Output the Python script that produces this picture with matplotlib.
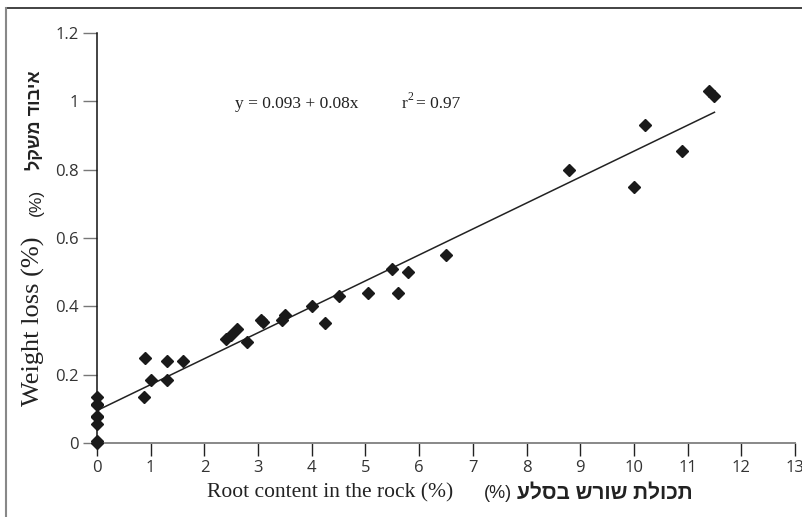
import matplotlib
matplotlib.use("Agg")
import matplotlib.pyplot as plt
from matplotlib.lines import Line2D

# Data
root_content = [0, 0, 0, 0, 0, 0, 0, 0,
                0.87, 0.9, 1.0, 1.3, 1.3, 1.6, 2.4, 2.5, 2.6, 2.8,
                3.05, 3.1, 3.45, 3.5, 4.0, 4.25, 4.5, 5.05, 5.5, 5.6,
                5.8, 6.5, 8.8, 10.0, 10.2, 10.9, 11.4, 11.5]
weight_loss = [0.135, 0.115, 0.11, 0.08, 0.075, 0.055, 0.005, 0.0,
               0.135, 0.25, 0.185, 0.24, 0.185, 0.24, 0.305, 0.315, 0.335, 0.295,
               0.36, 0.355, 0.36, 0.375, 0.40, 0.35, 0.43, 0.44, 0.51, 0.44,
               0.50, 0.55, 0.80, 0.75, 0.93, 0.855, 1.03, 1.015]
fit_x = [0, 11.5]
fit_y = [0.095, 0.968]
x_ticks = list(range(0, 14))
y_ticks = [0, 0.2, 0.4, 0.6, 0.8, 1.0, 1.2]
y_tick_labels = ["0", "0.2", "0.4", "0.6", "0.8", "1", "1.2"]

W, H = 803, 517
fig = plt.figure(figsize=(W / 100, H / 100), dpi=100)
ax = fig.add_axes([97 / W, 1 - 443 / H, (795 - 97) / W, (443 - 33) / H])

ax.plot(fit_x, fit_y, color="#222222", lw=1.1, zorder=2)
ax.plot(root_content, weight_loss, linestyle="none", marker="D", markersize=6.2,
        color="#1a1a1a", zorder=3, clip_on=False)

ax.set_xlim(0, 13)
ax.set_ylim(0, 1.2)
ax.set_xticks(x_ticks)
ax.set_yticks(y_ticks)
ax.set_yticklabels(y_tick_labels)

for s in ["top", "right"]:
    ax.spines[s].set_visible(False)
ax.spines["left"].set_color("#111111")
ax.spines["bottom"].set_color("#888888")
ax.spines["left"].set_linewidth(1.1)
ax.spines["bottom"].set_linewidth(1.4)
ax.tick_params(axis="x", direction="out", length=9, width=1.0, color="#222222",
               labelsize=12, labelcolor="#333333", pad=3)
ax.tick_params(axis="y", direction="out", length=10, width=1.0, color="#777777",
               labelsize=12, labelcolor="#333333", pad=3)
for lbl in ax.get_xticklabels() + ax.get_yticklabels():
    lbl.set_family("Open Sans")

serif = "Liberation Serif"
heb = ["Liberation Sans", "DejaVu Sans"]
ink = "#222222"

# Equation text
fig.text(235 / W, 1 - 104 / H, "y = 0.093 + 0.08x", family=serif, fontsize=12.5,
         color=ink, va="center", ha="left")
fig.text(402 / W, 1 - 104 / H, "r", family=serif, fontsize=12.5,
         color=ink, va="center", ha="left")
fig.text(408 / W, 1 - 97 / H, "2", family=serif, fontsize=8.5,
         color=ink, va="center", ha="left")
fig.text(416 / W, 1 - 104 / H, "= 0.97", family=serif, fontsize=12.5,
         color=ink, va="center", ha="left")

# X labels
fig.text(207 / W, 1 - 493 / H, "Root content in the rock (%)", family=serif,
         fontsize=15.5, color=ink, va="center", ha="left")
fig.text(484 / W, 1 - 493 / H, "(%)", family=heb, fontsize=13, color=ink,
         va="center", ha="left")
fig.text(693 / W, 1 - 493 / H, "תכולת שורש בסלע"[::-1], family=heb,
         fontsize=15, fontweight="bold", color=ink, va="center", ha="right")

# Y labels
fig.text(33 / W, 1 - 321 / H, "Weight loss (%)", family=serif, fontsize=19,
         color=ink, va="center", ha="center", rotation=90)
fig.text(36 / W, 1 - 202 / H, "(%)", family=heb, fontsize=12.5, color=ink,
         va="center", ha="center", rotation=90)
fig.text(35 / W, 1 - 120 / H, "איבוד משקל"[::-1], family=heb, fontsize=13,
         fontweight="bold", color=ink, va="center", ha="center", rotation=90)

# Frame lines at the top and left
fig.add_artist(Line2D([6 / W, 1.0], [1 - 8 / H, 1 - 8 / H], transform=fig.transFigure,
                      color="#222222", lw=1.2))
fig.add_artist(Line2D([6 / W, 6 / W], [0, 1 - 8 / H], transform=fig.transFigure,
                      color="#888888", lw=1.5))

fig.savefig("out.png", dpi=100)
